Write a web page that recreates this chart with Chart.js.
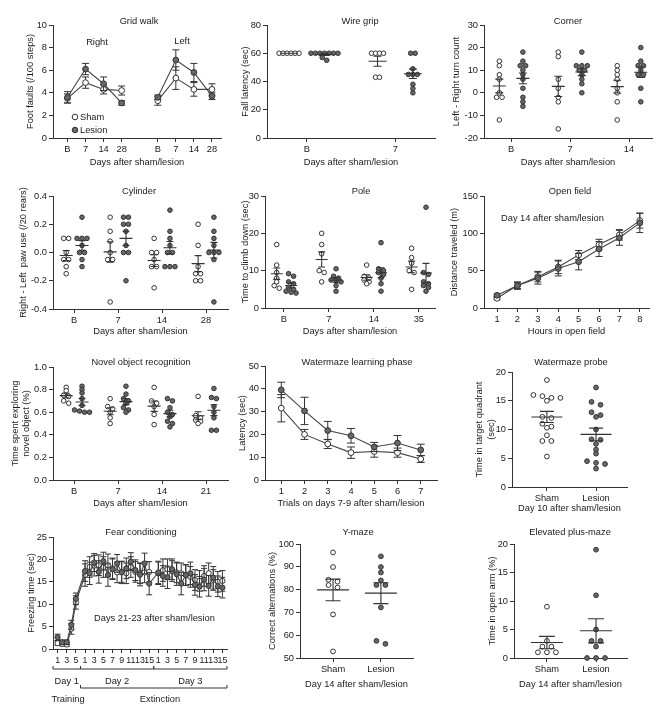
<!DOCTYPE html>
<html><head><meta charset="utf-8">
<script src="https://cdn.jsdelivr.net/npm/chart.js@4.4.1/dist/chart.umd.min.js"></script>
<style>
html,body{margin:0;padding:0;background:#fff;}
#fig{position:relative;width:666px;height:711px;overflow:hidden;background:#fff;}
#fig canvas{position:absolute;}
</style></head><body><div id="fig"></div>
<script>
// ================= DATA =================
// Grid walk (mean, SEM)
const gridDays = ['B','7','14','28'];
const gridRightSham = [3.5, 4.9, 4.3, 4.2];
const gridRightShamSem = [0.4, 0.5, 0.4, 0.4];
const gridRightLesion = [3.6, 6.1, 4.8, 3.1];
const gridRightLesionSem = [0.5, 0.5, 0.6, 0.2];
const gridLeftSham = [3.3, 5.3, 4.3, 4.3];
const gridLeftShamSem = [0.4, 1.0, 0.6, 0.5];
const gridLeftLesion = [3.6, 6.9, 5.8, 3.7];
const gridLeftLesionSem = [0.2, 0.9, 0.8, 0.3];
// Wire grip (individual animals)
const wireDays = ['B','7'];
const wireSham = [[60,60,60,60,60,60],[60,60,60,60,43,43]];
const wireLesion = [[60,60,60,60,60,60,60,57,55],[60,60,49,45,45,45,38,35,32]];
// Corner
const cornerDays = ['B','7','14'];
const cornerSham = [[14,12,8,6,0,-2,-2,-12],[18,16,6,2,-2,-4,-16],[12,10,8,6,2,0,-4,-12]];
const cornerLesion = [[18,14,12,12,10,8,6,2,-2,-4,-6],[18,12,12,12,10,10,8,6,4,0],[20,14,12,12,10,8,8,2,-4]];
// Cylinder
const cylDays = ['B','7','14','28'];
const cylSham = [[0.1,0.1,0,-0.05,-0.05,-0.1,-0.15],[0.25,0.15,0.08,0,-0.05,-0.05,-0.35],[0.1,0,0,-0.05,-0.1,-0.1,-0.25],[0.2,0.05,-0.1,-0.15,-0.15,-0.2,-0.2]];
const cylLesion = [[0.25,0.1,0.1,0.1,0.05,0,0,-0.05,-0.1],[0.25,0.25,0.2,0.2,0.15,0.05,0,0,-0.2],[0.3,0.15,0.1,0.05,0,0,-0.1,-0.1,-0.1],[0.25,0.15,0.1,0.05,0,0,0,-0.05,-0.35]];
// Pole
const poleDays = ['B','7','14','35'];
const poleSham = [[17,11.5,9.5,8,7,6,5.3],[20,17,14.5,10,9.5,7],[11.5,8.5,8,7.5,7,6.5],[16,13.5,12,10,9.5,5]];
const poleLesion = [[9.2,8.5,7,6.5,5.5,5,4.5,4.2,4],[10.5,8.5,8,7.5,7.5,7,6,4.5],[17.5,10.5,10,9.5,9,8,6.5,4.5],[27,9.5,9,7,6.5,6,5.5,4.5]];
// Open field (mean, SEM)
const ofHours = [1,2,3,4,5,6,7,8];
const ofSham = [13,30,42,55,71,85,98,117];
const ofShamSem = [2,4,7,9,6,7,7,10];
const ofLesion = [17,30,40,53,62,79,94,114];
const ofLesionSem = [2,5,8,10,11,10,10,13];
// Novel object recognition
const norDays = ['B','7','14','21'];
const norSham = [[0.82,0.79,0.75,0.74,0.70,0.68],[0.72,0.65,0.63,0.60,0.55,0.50],[0.82,0.70,0.68,0.65,0.58,0.49],[0.74,0.57,0.55,0.53,0.52,0.50]];
const norLesion = [[0.83,0.80,0.77,0.72,0.66,0.62,0.61,0.60,0.60],[0.83,0.76,0.72,0.70,0.68,0.64,0.62,0.60],[0.72,0.70,0.64,0.60,0.58,0.56,0.52,0.50,0.47],[0.81,0.73,0.72,0.65,0.60,0.55,0.44,0.44]];
// Watermaze learning (mean, SEM)
const wmTrials = [1,2,3,4,5,6,7];
const wmSham = [31.5,20,15.8,12,12.5,12,9.2];
const wmShamSem = [6,2.2,2,2.5,2.5,2,1.5];
const wmLesion = [39.5,30.3,21.7,19.4,14.5,16.2,13.2];
const wmLesionSem = [3.4,6,4,3.2,2,3.3,2.5];
// Watermaze probe
const groupNames = ['Sham','Lesion'];
const probeSham = [18.6,16,15.8,15.5,15.5,15,12.2,12,11,10.5,10.3,9,8,8,5.3];
const probeLesion = [17.3,14.8,14.3,13,12.5,12.2,10,8.3,8.2,7.5,6.5,5.8,4.5,4.2,4,3.2];
// Fear conditioning (mean, SEM) – Day 1: 5 trials, Day 2: 15, Day 3: 15
const fearDays = ['Day 1','Day 2','Day 3'];
const fearDayTrials = [5,15,15];
const fearTickLabels = ['1','3','5','1','3','5','7','9','11','13','15','1','3','5','7','9','11','13','15'];
const fearLesion = [2.6,1.5,1.5,5.4,11.2, 17.4,16.9,19.3,17.2,19.6,16.5,17.8,19.1,17.1,18.0,19.5,17.6,16.6,19.1,14.6, 17.1,16.3,16.0,17.8,16.7,14.6,16.5,16.9,14.3,13.9,15.5,14.1,15.9,14.0,13.7];
const fearLesionSem = [0.7,0.5,0.5,1.0,1.3, 2.3,2.5,2.0,2.5,2.0,2.5,2.3,2.0,2.5,2.3,2.0,2.3,2.5,2.3,2.5, 2.5,2.3,2.5,2.3,2.5,2.5,2.3,2.5,2.3,2.3,2.5,2.3,2.5,2.3,2.3];
const fearSham = [1.3,1.1,1.0,4.5,10.4, 16.5,18.3,18.6,18.7,18.3,18.7,18.0,17.1,17.2,16.9,18.3,17.2,16.9,17.1,17.2, 16.9,17.6,17.8,17.4,17.1,16.9,16.5,16.1,15.4,15.2,16.3,16.9,15.4,15.0,15.2];
const fearShamSem = [0.5,0.4,0.4,1.2,1.5, 2.5,2.3,2.3,2.3,2.3,2.5,2.3,2.3,2.3,2.3,2.3,2.3,2.3,2.3,2.3, 2.5,2.5,2.3,2.3,2.3,2.3,2.3,2.3,2.3,2.3,2.3,2.3,2.3,2.3,2.3];
// Y-maze
const ymSham = [96.3,89.9,84.3,83.5,82,80.9,69.1,52.9];
const ymLesion = [94.6,89.9,87.5,84,82,82,72.2,57.5,56.2];
// Elevated plus-maze
const epmSham = [9,3,2,2,1,1,1];
const epmLesion = [19,11,5,3,3,2,0,0,0];

// ================= STYLE / HELPERS =================
const FAM = "'Liberation Sans', Arial, Helvetica, sans-serif";
const FS = 9.3;
const TXT = '#1a1a1a', AX = '#333333', LINE = '#444444', DARK = '#676767', PTB = '#333333';
Chart.defaults.font.family = FAM;
Chart.defaults.font.size = FS;
Chart.defaults.color = TXT;
const fig = document.getElementById('fig');

function meanSem(a){
  const n = a.length, m = a.reduce((s,v)=>s+v,0)/n;
  const sd = Math.sqrt(a.reduce((s,v)=>s+(v-m)*(v-m),0)/(n-1));
  return {m, s: sd/Math.sqrt(n)};
}
// scatter-dot layout: values close in height share a row, rows centred on the group
function swarm(vals, cx, g, stepPx, rowPx){
  const sorted = vals.slice().sort((a,b)=>b-a);
  const rows = [];
  for (const v of sorted){
    const last = rows[rows.length-1];
    if (last && Math.abs(last.y0 - v)*g.pxY < rowPx) last.vals.push(v);
    else rows.push({y0:v, vals:[v]});
  }
  const pts = [];
  rows.forEach(r=>{ const n=r.vals.length; r.vals.forEach((v,i)=>pts.push({x: cx + (i-(n-1)/2)*stepPx/g.pxX, y:v})); });
  return pts;
}
function dotSet(groups, centers, lesion, g, o){
  let data = [];
  groups.forEach((vals,i)=>{ data = data.concat(swarm(vals, centers[i], g, o.step, o.row)); });
  return {data, summ: groups.map((vals,i)=>({cx:centers[i], vals})),
    pointRadius:o.r, pointBorderWidth:1, pointBackgroundColor: lesion?DARK:'#ffffff', pointBorderColor:PTB, clip:false};
}
function lineSet(xs, ys, sem, lesion, r){
  return {data: xs.map((x,i)=>({x, y:ys[i]})), sem, showLine:true, borderColor:LINE, borderWidth:1.1,
    pointRadius:r, pointBorderWidth:1, pointBackgroundColor: lesion?DARK:'#ffffff', pointBorderColor:PTB, clip:false};
}

let pid = 0;
function build(p){
  const r = p.rect;
  const cl = r.l - (p.ml||56), ct = r.t - (p.mt||32), cr = r.r + (p.mr||14), cb = r.b + (p.mb||50);
  const W = cr-cl, H = cb-ct;
  const cv = document.createElement('canvas');
  cv.width = W; cv.height = H;
  Object.assign(cv.style,{left:cl+'px', top:ct+'px', width:W+'px', height:H+'px'});
  fig.appendChild(cv);
  const g = {pxX:(r.r-r.l)/(p.x.max-p.x.min), pxY:(r.b-r.t)/(p.y.max-p.y.min)};
  const datasets = p.datasets(g);
  const ylh = p.yLh || 1.2;
  const grid = {display:true, drawOnChartArea:false, drawTicks:true, tickLength:4, color:AX, lineWidth:1};
  const border = {display:true, color:AX, width:1};
  const yTitle = p.yTitle ? {display:true, text:p.yTitle, color:TXT, font:{size:FS, lineHeight:ylh},
      padding:{top: p.yTitleX - cl - FS*ylh/2, bottom:0}} : {display:false};
  const xTitle = p.xTitle ? {display:true, text:p.xTitle, color:TXT, font:{size:FS, lineHeight:1.2},
      padding:{top:0, bottom: cb - p.xTitleY - FS*1.2/2}} : {display:false};
  const cap = p.cap || 3.5;
  const helper = {
    id:'helper'+(pid++),
    beforeDatasetDraw(chart, args){
      const ds = chart.data.datasets[args.index];
      if (!ds.sem) return;
      const ys = chart.scales.y, ctx = chart.ctx;
      ctx.save(); ctx.strokeStyle = AX; ctx.lineWidth = 1;
      ds.data.forEach((d,i)=>{
        const px = args.meta.data[i].x, s = ds.sem[i];
        const y1 = ys.getPixelForValue(d.y+s), y2 = ys.getPixelForValue(d.y-s);
        ctx.beginPath();
        ctx.moveTo(px,y1); ctx.lineTo(px,y2);
        ctx.moveTo(px-cap,y1); ctx.lineTo(px+cap,y1);
        ctx.moveTo(px-cap,y2); ctx.lineTo(px+cap,y2);
        ctx.stroke();
      });
      ctx.restore();
    },
    afterDatasetsDraw(chart){
      const xs = chart.scales.x, ys = chart.scales.y, ctx = chart.ctx;
      ctx.save(); ctx.strokeStyle = AX; ctx.lineWidth = 1.1;
      chart.data.datasets.forEach(ds=>{
        if (!ds.summ) return;
        ds.summ.forEach(sg=>{
          const {m,s} = meanSem(sg.vals);
          const px = xs.getPixelForValue(sg.cx);
          const ym = ys.getPixelForValue(m), y1 = ys.getPixelForValue(m+s), y2 = ys.getPixelForValue(m-s);
          ctx.beginPath();
          ctx.moveTo(px-p.meanW, ym); ctx.lineTo(px+p.meanW, ym);
          ctx.moveTo(px, y1); ctx.lineTo(px, y2);
          ctx.moveTo(px-p.semW, y1); ctx.lineTo(px+p.semW, y1);
          ctx.moveTo(px-p.semW, y2); ctx.lineTo(px+p.semW, y2);
          ctx.stroke();
        });
      });
      ctx.restore();
    },
    afterDraw(chart){
      const ctx = chart.ctx;
      ctx.save();
      ctx.fillStyle = TXT; ctx.textBaseline = 'middle';
      (p.texts||[]).forEach(t=>{
        ctx.font = (t.size||FS)+'px '+FAM;
        ctx.textAlign = t.align||'center';
        ctx.fillText(t.t, t.x-cl, t.y-ct);
      });
      if (p.extra) p.extra(chart, ctx, cl, ct);
      ctx.restore();
    }
  };
  new Chart(cv, {
    type:'scatter',
    data:{datasets},
    options:{
      responsive:false, animation:false, events:[],
      layout:{autoPadding:false, padding:{left:0, top:r.t-ct, right:cr-r.r, bottom:0}},
      plugins:{legend:{display:false}, tooltip:{enabled:false}, title:{display:false}},
      scales:{
        x:{type:'linear', position:'bottom', min:p.x.min, max:p.x.max, grid, border, title:xTitle,
           afterBuildTicks:s=>{ s.ticks = p.x.ticks.map(v=>({value:v})); },
           afterFit:s=>{ s.height = cb - r.b; },
           ticks:{padding:2, color:TXT, autoSkip:false, maxRotation:0, minRotation:0,
                  font:{size:p.xFs||FS}, callback:(v,i)=>p.x.labels[i]}},
        y:{type:'linear', position:'left', min:p.y.min, max:p.y.max, grid, border, title:yTitle,
           afterFit:s=>{ s.width = r.l - cl; },
           ticks:{padding:2, color:TXT, stepSize:p.y.step,
                  callback: v=>{ const vv = Math.abs(v)<1e-9?0:v; return p.y.dec!=null ? vv.toFixed(p.y.dec) : String(Math.round(vv*1000)/1000); }}}
      }
    },
    plugins:[helper]
  });
}
const idx = a => a.map((_,i)=>i);

// ================= PANELS =================
// 1 Grid walk
build({
  rect:{l:53,t:25,r:221,b:138}, ml:60, mt:30,
  x:{min:-0.8, max:8.5, ticks: idx(gridDays).concat(idx(gridDays).map(i=>i+gridDays.length+1)), labels: gridDays.concat(gridDays)},
  y:{min:0, max:10, step:2},
  yTitle:'Foot faults (/100 steps)', yTitleX:30, xTitle:'Days after sham/lesion', xTitleY:162,
  cap:3.5,
  texts:[{t:'Grid walk',x:139,y:21},{t:'Right',x:97,y:42},{t:'Left',x:182,y:41},
         {t:'Sham',x:80,y:117,align:'left'},{t:'Lesion',x:80,y:130,align:'left'}],
  extra:(chart,ctx,cl,ct)=>{
    [[117,'#ffffff'],[130,DARK]].forEach(([y,f])=>{
      ctx.beginPath(); ctx.arc(75-cl, y-ct, 2.8, 0, Math.PI*2);
      ctx.fillStyle=f; ctx.fill(); ctx.strokeStyle=PTB; ctx.lineWidth=1; ctx.stroke();
    });
  },
  datasets:g=>{
    const xr = idx(gridDays), xl = idx(gridDays).map(i=>i+gridDays.length+1);
    return [lineSet(xr,gridRightLesion,gridRightLesionSem,true,2.9), lineSet(xl,gridLeftLesion,gridLeftLesionSem,true,2.9),
            lineSet(xr,gridRightSham,gridRightShamSem,false,2.9), lineSet(xl,gridLeftSham,gridLeftShamSem,false,2.9)];
  }
});
// 2 Wire grip
build({
  rect:{l:267,t:25,r:435,b:138},
  x:{min:-0.45, max:1.45, ticks: idx(wireDays), labels: wireDays},
  y:{min:0, max:80, step:20},
  yTitle:'Fall latency (sec)', yTitleX:245, xTitle:'Days after sham/lesion', xTitleY:162,
  meanW:9, semW:4,
  texts:[{t:'Wire grip',x:360,y:21}],
  datasets:g=>[dotSet(wireLesion, idx(wireDays).map(i=>i+0.2), true, g, {step:4.5,row:3,r:2.3}),
               dotSet(wireSham, idx(wireDays).map(i=>i-0.2), false, g, {step:4,row:3,r:2.3})]
});
// 3 Corner
build({
  rect:{l:484,t:25,r:652,b:138},
  x:{min:-0.46, max:2.39, ticks: idx(cornerDays), labels: cornerDays},
  y:{min:-20, max:30, step:10},
  yTitle:'Left - Right turn count', yTitleX:456, xTitle:'Days after sham/lesion', xTitleY:162,
  meanW:6.5, semW:4,
  texts:[{t:'Corner',x:568,y:21}],
  datasets:g=>[dotSet(cornerLesion, idx(cornerDays).map(i=>i+0.2), true, g, {step:5.5,row:3,r:2.3}),
               dotSet(cornerSham, idx(cornerDays).map(i=>i-0.2), false, g, {step:5.5,row:3,r:2.3})]
});
// 4 Cylinder
build({
  rect:{l:53,t:196,r:228,b:309}, ml:60,
  x:{min:-0.48, max:3.5, ticks: idx(cylDays), labels: cylDays},
  y:{min:-0.4, max:0.4, step:0.2, dec:1},
  yTitle:'Right - Left  paw use (/20 rears)', yTitleX:23, xTitle:'Days after sham/lesion', xTitleY:331,
  meanW:6.5, semW:3.5,
  texts:[{t:'Cylinder',x:139,y:191}],
  datasets:g=>[dotSet(cylLesion, idx(cylDays).map(i=>i+0.18), true, g, {step:5,row:3,r:2.3}),
               dotSet(cylSham, idx(cylDays).map(i=>i-0.18), false, g, {step:5,row:3,r:2.3})]
});
// 5 Pole
build({
  rect:{l:265,t:196,r:435,b:308},
  x:{min:-0.42, max:3.36, ticks: idx(poleDays), labels: poleDays},
  y:{min:0, max:30, step:10},
  yTitle:'Time to climb down (sec)', yTitleX:245, xTitle:'Days after sham/lesion', xTitleY:331,
  meanW:6, semW:3.5,
  texts:[{t:'Pole',x:361,y:191}],
  datasets:g=>[dotSet(poleLesion, idx(poleDays).map(i=>i+0.16), true, g, {step:5,row:3,r:2.3}),
               dotSet(poleSham, idx(poleDays).map(i=>i-0.16), false, g, {step:5,row:3,r:2.3})]
});
// 6 Open field
build({
  rect:{l:484,t:196,r:649,b:308},
  x:{min:0.36, max:8.45, ticks: ofHours, labels: ofHours.map(String)},
  y:{min:0, max:150, step:50},
  yTitle:'Distance traveled (m)', yTitleX:454, xTitle:'Hours in open field', xTitleY:331,
  cap:3.5,
  texts:[{t:'Open field',x:570,y:191},{t:'Day 14 after sham/lesion',x:501,y:218,align:'left'}],
  datasets:g=>[lineSet(ofHours,ofLesion,ofLesionSem,true,2.9), lineSet(ofHours,ofSham,ofShamSem,false,2.9)]
});
// 7 Novel object recognition
build({
  rect:{l:53,t:367,r:228,b:480}, ml:60,
  x:{min:-0.48, max:3.5, ticks: idx(norDays), labels: norDays},
  y:{min:0, max:1.0, step:0.2, dec:1},
  yTitle:['Time spent exploring','novel object (%)'], yTitleX:15, xTitle:'Days after sham/lesion', xTitleY:503,
  meanW:6.5, semW:3.5,
  texts:[{t:'Novel object recognition',x:141,y:362}],
  datasets:g=>[dotSet(norLesion, idx(norDays).map(i=>i+0.18), true, g, {step:5,row:3,r:2.3}),
               dotSet(norSham, idx(norDays).map(i=>i-0.18), false, g, {step:5,row:3,r:2.3})]
});
// 8 Watermaze learning phase
build({
  rect:{l:265,t:366,r:437,b:480},
  x:{min:0.3, max:7.7, ticks: wmTrials, labels: wmTrials.map(String)},
  y:{min:0, max:50, step:10},
  yTitle:'Latency (sec)', yTitleX:242, xTitle:'Trials on days 7-9 after sham/lesion', xTitleY:503,
  cap:4,
  texts:[{t:'Watermaze learning phase',x:357,y:362}],
  datasets:g=>[lineSet(wmTrials,wmLesion,wmLesionSem,true,2.9), lineSet(wmTrials,wmSham,wmShamSem,false,2.9)]
});
// 9 Watermaze probe
build({
  rect:{l:512,t:372,r:627,b:487},
  x:{min:0.29, max:2.63, ticks:[1,2], labels: groupNames},
  y:{min:0, max:20, step:5},
  yTitle:['Time in target quadrant','(sec)'], yLh:1.35, yTitleX:479, xTitle:'Day 10 after sham/lesion', xTitleY:508,
  meanW:15.5, semW:7,
  texts:[{t:'Watermaze probe',x:571,y:362}],
  datasets:g=>[dotSet([probeLesion],[2],true,g,{step:9,row:3.5,r:2.4}), dotSet([probeSham],[1],false,g,{step:9,row:3.5,r:2.4})]
});
// 10 Fear conditioning
const fearPos = [];
const fearTickPos = [];
const fearBounds = [];
(function(){ let s = 0; fearDayTrials.forEach(n=>{ fearBounds.push(s-1); for(let t=1;t<=n;t++){ fearPos.push(s+t-1); if(t%2===1) fearTickPos.push(s+t-1);} s += n+1; }); fearBounds.push(s-1); })();
build({
  rect:{l:53,t:537,r:227,b:649}, ml:60, mb:62,
  x:{min:-1, max:fearBounds[fearBounds.length-1], ticks: fearTickPos, labels: fearTickLabels},
  xFs:8.8,
  y:{min:0, max:25, step:5},
  yTitle:'Freezing time (sec)', yTitleX:31,
  cap:3,
  texts:[{t:'Fear conditioning',x:141,y:532},{t:'Days 21-23 after sham/lesion',x:94,y:618,align:'left'},
         {t:'Training',x:68,y:699},{t:'Extinction',x:160,y:699}],
  extra:(chart,ctx,cl,ct)=>{
    const xs = chart.scales.x;
    ctx.strokeStyle = AX; ctx.lineWidth = 1; ctx.fillStyle = TXT;
    ctx.font = FS+'px '+FAM; ctx.textAlign='center'; ctx.textBaseline='middle';
    const yb = 669-ct, yd = 678-ct, ye = 688-ct;
    for (let d=0; d<fearDays.length; d++){
      const a = xs.getPixelForValue(fearBounds[d]), b = xs.getPixelForValue(fearBounds[d+1]);
      ctx.beginPath(); ctx.moveTo(a,yb-3); ctx.lineTo(a,yb); ctx.lineTo(b,yb); ctx.lineTo(b,yb-3); ctx.stroke();
      ctx.fillText(fearDays[d], (a+b)/2, yd+3);
    }
    const a = xs.getPixelForValue(fearBounds[1]), b = xs.getPixelForValue(fearBounds[3]);
    ctx.beginPath(); ctx.moveTo(a,ye-3); ctx.lineTo(a,ye); ctx.lineTo(b,ye); ctx.lineTo(b,ye-3); ctx.stroke();
  },
  datasets:g=>[lineSet(fearPos,fearLesion,fearLesionSem,true,2.6), lineSet(fearPos,fearSham,fearShamSem,false,2.6)]
});
// 11 Y-maze
build({
  rect:{l:300,t:544,r:413,b:658},
  x:{min:0.31, max:2.67, ticks:[1,2], labels: groupNames},
  y:{min:50, max:100, step:10},
  yTitle:'Correct alternations (%)', yTitleX:272, xTitle:'Day 14 after sham/lesion', xTitleY:684,
  meanW:16, semW:7.5,
  texts:[{t:'Y-maze',x:358,y:532}],
  datasets:g=>[dotSet([ymLesion],[2],true,g,{step:9,row:3.5,r:2.4}), dotSet([ymSham],[1],false,g,{step:9,row:3.5,r:2.4})]
});
// 12 Elevated plus-maze
build({
  rect:{l:514,t:544,r:627,b:658},
  x:{min:0.33, max:2.63, ticks:[1,2], labels: groupNames},
  y:{min:0, max:20, step:5},
  yTitle:'Time in open arm (%)', yTitleX:492, xTitle:'Day 14 after sham/lesion', xTitleY:684,
  meanW:16, semW:8,
  texts:[{t:'Elevated plus-maze',x:570,y:532}],
  datasets:g=>[dotSet([epmLesion],[2],true,g,{step:9,row:3.5,r:2.4}), dotSet([epmSham],[1],false,g,{step:9,row:3.5,r:2.4})]
});
</script>
</body></html>
